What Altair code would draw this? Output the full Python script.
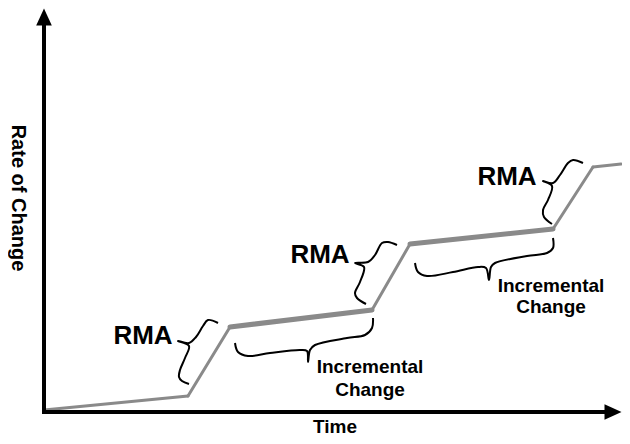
import altair as alt
import pandas as pd

# Diagram units: time (x) and rate of change (y), 1 unit ~ 1 px, origin at the axes corner.
path_t = [0, 144, 186, 328, 366, 509, 549, 577]
path_r = [0, 14, 83, 100, 166, 181, 243, 246]
seg_w = [3, 3, 5, 3, 5, 3, 3]

brace_rma1_t = [174, 164, 159, 152, 145, 134, 145, 141, 136, 135, 138, 145]
brace_rma1_r = [87, 90, 84, 73, 67, 69, 64, 52, 40, 33, 29, 26]
brace_rma2_t = [353, 344, 338, 331, 324, 311, 320, 316, 311, 313, 322]
brace_rma2_r = [165, 168, 167, 155, 148, 147, 143, 128, 117, 112, 106]
brace_rma3_t = [539, 529, 524, 516, 509, 499, 508, 504, 499, 500, 508]
brace_rma3_r = [247, 250, 247, 235, 227, 229, 224, 210, 200, 193, 186]
brace_inc1_t = [191, 194, 204, 226, 256, 263, 264, 266, 271, 303, 321, 328, 329]
brace_inc1_r = [67, 58, 54, 57, 60, 59, 48, 60, 65, 72, 75, 82, 92]
brace_inc2_t = [371, 374, 383, 409, 434, 442, 445, 447, 451, 483, 503, 509, 509]
brace_inc2_r = [147, 138, 134, 138, 143, 142, 130, 143, 147, 154, 157, 162, 172]

labels = ["RMA", "RMA", "RMA", "Incremental", "Change", "Incremental", "Change", "Time", "Rate of Change"]
label_t = [99, 276, 463, 326, 326, 507, 507, 291, -26]
label_r = [74, 155, 233, 43, 20, 124, 103, -17, 212]
label_size = [26, 26, 26, 19, 19, 19, 19, 19, 20]
label_angle = [0, 0, 0, 0, 0, 0, 0, 0, 90]

x_dom = [-36, 578]
y_dom = [-26, 402]

def X(f):
    return alt.X(f, type="quantitative", scale=alt.Scale(domain=x_dom, nice=False, zero=False), axis=None)

def Y(f):
    return alt.Y(f, type="quantitative", scale=alt.Scale(domain=y_dom, nice=False, zero=False), axis=None)

segs = pd.DataFrame({
    "t": path_t[:-1], "r": path_r[:-1],
    "t2": path_t[1:], "r2": path_r[1:], "w": seg_w,
})
line = alt.Chart(segs).mark_rule(color="#8a8a8a", strokeCap="round").encode(
    x=X("t"), y=Y("r"), x2="t2", y2="r2",
    strokeWidth=alt.StrokeWidth("w:Q", scale=None),
)

rows = []
for name, ts, rs in [("rma1", brace_rma1_t, brace_rma1_r), ("rma2", brace_rma2_t, brace_rma2_r),
                     ("rma3", brace_rma3_t, brace_rma3_r), ("inc1", brace_inc1_t, brace_inc1_r),
                     ("inc2", brace_inc2_t, brace_inc2_r)]:
    for i, (a, b) in enumerate(zip(ts, rs)):
        rows.append({"brace": name, "i": i, "t": a, "r": b})
braces = alt.Chart(pd.DataFrame(rows)).mark_line(color="black", strokeWidth=2, interpolate="catmull-rom").encode(
    x=X("t"), y=Y("r"), detail="brace:N", order="i:Q",
)

axes_df = pd.DataFrame({"t": [0, -2], "r": [-3, -2], "t2": [0, 566], "r2": [388, -2]})
axes = alt.Chart(axes_df).mark_rule(color="black", strokeWidth=4).encode(
    x=X("t"), y=Y("r"), x2="t2", y2="r2",
)

up = alt.Chart(pd.DataFrame({"t": [0], "r": [393]})).mark_point(
    shape="M0,-1L0.92,1L-0.92,1Z", filled=True, color="black", opacity=1, size=289
).encode(x=X("t"), y=Y("r"))
right = alt.Chart(pd.DataFrame({"t": [569], "r": [-2]})).mark_point(
    shape="M1,0L-1,0.92L-1,-0.92Z", filled=True, color="black", opacity=1, size=289
).encode(x=X("t"), y=Y("r"))

text_df = pd.DataFrame({"label": labels, "t": label_t, "r": label_r, "s": label_size, "a": label_angle})
texts = alt.Chart(text_df).mark_text(
    font="Liberation Sans", fontWeight="bold", color="black", align="center", baseline="middle"
).encode(
    x=X("t"), y=Y("r"), text="label:N",
    size=alt.Size("s:Q", scale=None), angle=alt.Angle("a:Q", scale=None),
)

chart = alt.layer(line, axes, up, right, braces, texts).properties(
    width=614, height=428, padding=0, autosize=alt.AutoSizeParams(type="none"),
).configure_view(stroke=None)

chart.save("out.html", embed_options={"renderer": "svg", "actions": False})
